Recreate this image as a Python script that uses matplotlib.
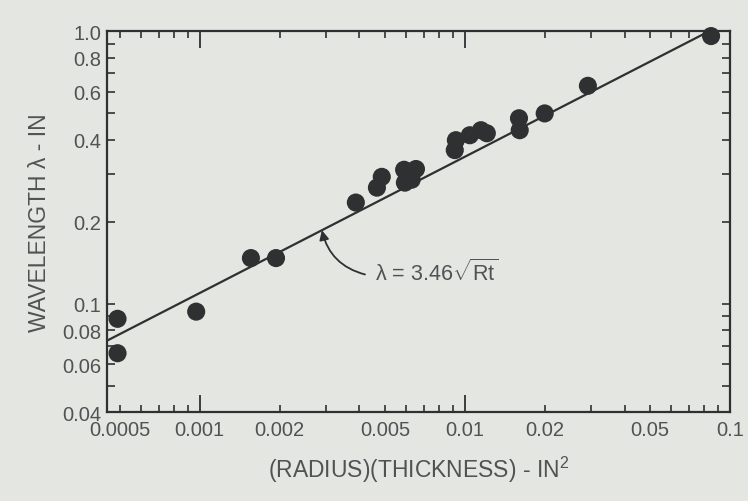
import numpy as np
import matplotlib
matplotlib.use('Agg')
import matplotlib.pyplot as plt
from matplotlib.ticker import FixedLocator, FuncFormatter, NullFormatter

rt = [0.00049, 0.00049, 0.00097, 0.00156, 0.00194, 0.00388, 0.00466, 0.00486,
      0.00594, 0.0059, 0.00654, 0.0063, 0.00916, 0.00925, 0.01044, 0.0115,
      0.0121, 0.0160, 0.0161, 0.0200, 0.0291, 0.0848]
wavelength = [0.088, 0.0658, 0.0935, 0.147, 0.147, 0.235, 0.2665, 0.292,
              0.278, 0.31, 0.312, 0.285, 0.366, 0.398, 0.415, 0.433,
              0.422, 0.479, 0.433, 0.499, 0.63, 0.959]

# Fitted relation lambda = 3.46 * sqrt(Rt)
coef = 3.46
fit_x = [0.000447, 0.0833]

# Tick setup
x_decades = [0.001, 0.01]
x_minor = [0.0005, 0.0006, 0.0007, 0.0008, 0.0009, 0.002, 0.003, 0.004, 0.005,
           0.006, 0.007, 0.008, 0.009, 0.02, 0.03, 0.04, 0.05, 0.06, 0.07, 0.08, 0.09, 0.1]
x_labels = {0.0005: '0.0005', 0.001: '0.001', 0.002: '0.002', 0.005: '0.005',
            0.01: '0.01', 0.02: '0.02', 0.05: '0.05', 0.1: '0.1'}
y_major = [0.04, 0.06, 0.08, 0.1, 0.2, 0.4, 0.6, 0.8, 1.0]
y_major_labels = ['0.04', '0.06', '0.08', '0.1', '0.2', '0.4', '0.6', '0.8', '1.0']
y_minor = [0.05, 0.07, 0.09, 0.3, 0.5, 0.7, 0.9]

bg = '#e4e6e1'
ink = '#2e3032'
txt = '#505254'

plt.rcParams['font.family'] = ['Liberation Sans', 'DejaVu Sans']
plt.rcParams['mathtext.fontset'] = 'custom'
plt.rcParams['mathtext.rm'] = 'Liberation Sans'

fig = plt.figure(figsize=(7.48, 5.02), dpi=100, facecolor=bg)
ax = fig.add_axes([0.143, 0.177, 0.833, 0.759])
ax.set_facecolor(bg)
ax.set_xscale('log')
ax.set_yscale('log')
ax.set_xlim(0.000447, 0.1)
ax.set_ylim(0.04, 1.0)

fx = np.array(fit_x)
ax.plot(fx, coef * np.sqrt(fx), color=ink, lw=1.6, zorder=2)
ax.scatter(rt, wavelength, s=170, color=ink, edgecolors='none', zorder=3, clip_on=False)

ax.xaxis.set_major_locator(FixedLocator(x_decades))
ax.xaxis.set_minor_locator(FixedLocator(x_minor))
lab = lambda v, pos: next((s for k, s in x_labels.items() if abs(k - v) / k < 1e-6), '')
ax.xaxis.set_major_formatter(FuncFormatter(lab))
ax.xaxis.set_minor_formatter(FuncFormatter(lab))

ax.yaxis.set_major_locator(FixedLocator(y_major))
ax.set_yticklabels(y_major_labels)
ax.yaxis.set_minor_locator(FixedLocator(y_minor))
ax.yaxis.set_minor_formatter(NullFormatter())

ax.tick_params(axis='x', which='major', direction='in', length=12, width=1.3,
               top=True, color=ink, labelcolor=txt, labelsize=14.5, pad=6)
ax.tick_params(axis='x', which='minor', direction='in', length=5, width=1.2,
               top=True, color=ink, labelcolor=txt, labelsize=14.5, pad=6)
ax.tick_params(axis='y', which='both', direction='in', length=6, width=1.2,
               right=True, color=ink, labelcolor=txt, labelsize=14.5, pad=4)

for s in ax.spines.values():
    s.set_color(ink)
    s.set_linewidth(1.6)

ax.set_xlabel('(RADIUS)(THICKNESS) - IN$^2$', fontsize=16.5, color=txt, labelpad=10)
ax.set_ylabel('WAVELENGTH λ - IN', fontsize=16.5, color=txt, labelpad=8)

# Equation label with curved arrow pointing at the line
ax.text(0.0046, 0.131, r'λ = 3.46$\sqrt{\mathrm{Rt}}$', fontsize=15.5, color=txt,
        ha='left', va='center')
ax.annotate('', xy=(0.00289, 0.186), xytext=(0.0042, 0.128),
            arrowprops=dict(arrowstyle='-|>', connectionstyle='arc3,rad=-0.3',
                            color=ink, lw=1.3, mutation_scale=14, shrinkA=0, shrinkB=0))

fig.savefig('out.png', dpi=100, facecolor=bg)
